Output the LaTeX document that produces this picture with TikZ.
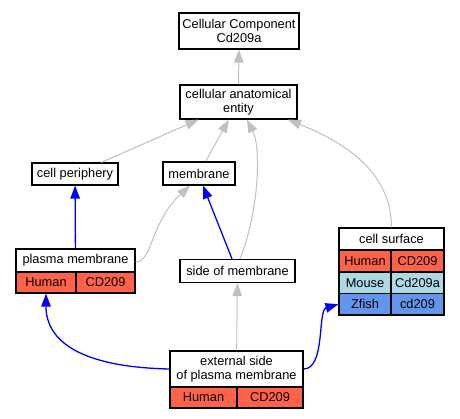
\documentclass[tikz,border=0pt]{standalone}
\usepackage{fontspec}
\setmainfont{Liberation Sans}
\usetikzlibrary{arrows.meta}
\definecolor{human}{HTML}{FF6347}
\definecolor{mouse}{HTML}{ADD8E6}
\definecolor{zfish}{HTML}{6495ED}
\definecolor{isagray}{HTML}{C0C0C0}

\begin{document}
\begin{tikzpicture}[x=1pt,y=-1pt,
   box/.style={draw,line width=1.2pt,inner sep=0pt,align=center,
     font=\fontsize{12.8}{14.5}\selectfont},
   isa/.style={draw=isagray,line width=1pt,-{Triangle[length=13pt,width=9.5pt]},isagray},
   partof/.style={draw=blue,line width=1.3pt,-{Triangle[length=13pt,width=9.5pt]},blue}]
   \useasboundingbox (0,0) rectangle (460,419);
   % terms
   \node[box,minimum width=120pt,minimum height=36pt] (top) at (239,31) {Cellular Component\\Cd209a};
   \node[box,minimum width=117pt,minimum height=34pt] (cae) at (238.5,102) {cellular anatomical\\entity};
   \node[box,minimum width=86pt,minimum height=22pt] (cp) at (75,174) {cell periphery};
   \node[box,minimum width=72pt,minimum height=23pt] (mem) at (199,173.5) {membrane};
   \node[box,minimum width=115pt,minimum height=23pt] (som) at (237.5,271) {side of membrane};
   % plasma membrane
   \node[box,minimum width=119pt,minimum height=23pt] (pm) at (75.5,260.5) {plasma membrane};
   \node[box,fill=human,minimum width=60pt,minimum height=21pt] (pmH) at (46,282.5) {Human};
   \node[box,fill=human,minimum width=59pt,minimum height=21pt] (pmC) at (105.5,282.5) {CD209};
   % cell surface
   \node[box,minimum width=105pt,minimum height=22pt] (cs) at (391.5,239) {cell surface};
   \node[box,fill=human,minimum width=52pt,minimum height=22pt] (csH) at (365,261) {Human};
   \node[box,fill=human,minimum width=53pt,minimum height=22pt] (csHC) at (417.5,261) {CD209};
   \node[box,fill=mouse,minimum width=52pt,minimum height=21.5pt] (csM) at (365,282.75) {Mouse};
   \node[box,fill=mouse,minimum width=53pt,minimum height=21.5pt] (csMC) at (417.5,282.75) {Cd209a};
   \node[box,fill=zfish,minimum width=52pt,minimum height=21.5pt] (csZ) at (365,304.25) {Zfish};
   \node[box,fill=zfish,minimum width=53pt,minimum height=21.5pt] (csZC) at (417.5,304.25) {cd209};
   % external side
   \node[box,minimum width=133pt,minimum height=36pt] (es) at (236.5,369) {external side\\of plasma membrane};
   \node[box,fill=human,minimum width=67pt,minimum height=21pt] (esH) at (203.5,397.5) {Human};
   \node[box,fill=human,minimum width=66pt,minimum height=21pt] (esC) at (270,397.5) {CD209};
   % is_a
   \path[isa] (cae) -- (top);
   \path[isa] (cp) -- (cae);
   \path[isa] (mem) -- (cae);
   \path[isa] ([xshift=2.5pt]som.north) .. controls +(18,-45) and +(15,30) .. ([xshift=8.5pt]cae.south);
   \path[isa] (cs.north) .. controls +(0,-58) and +(52,21) .. ([xshift=49.5pt]cae.south);
   \path[isa] ([yshift=-1.5pt]pm.east) .. controls +(17,0) and +(-40,37) .. ([xshift=-9pt]mem.south);
   \path[isa] (es) -- (som);
   % part_of
   \path[partof] (pm) -- (cp);
   \path[partof] ([xshift=-5.5pt]som.north) -- ([xshift=4pt]mem.south);
   \path[partof] (es.west) .. controls +(-90,-2) and +(0,47) .. (pmH.south);
   \path[partof] (es.east) .. controls +(22,0) and +(-21,6) .. (csZ.west);
\end{tikzpicture}
\end{document}
